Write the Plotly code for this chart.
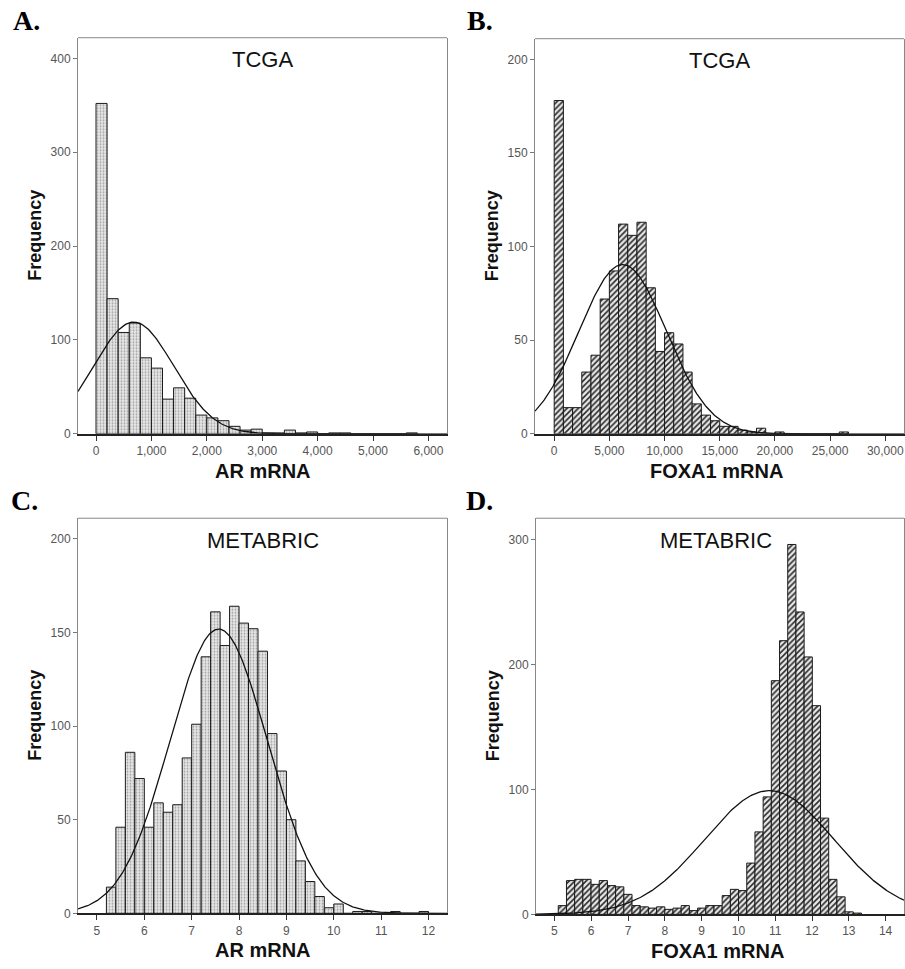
import numpy as np
import plotly.graph_objects as go

W, H = 905, 969

# ---------------- data ----------------
# Panel A: TCGA AR mRNA (bins of 200 starting at 0)
A_start, A_width = 0.0, 200.0
A_counts = [352, 144, 108, 118, 81, 70, 37, 49, 38, 20, 17, 14, 8, 4, 5, 1, 1, 4, 1, 2,
            0, 1, 1, 0, 0, 0, 0, 0, 1]
A_mean, A_sd, A_n = 680.0, 722.0, 1077

# Panel B: TCGA FOXA1 mRNA (bins of 833.33 starting at 0)
B_start, B_width = 0.0, 5000.0 / 6
B_counts = [178, 14, 14, 33, 42, 72, 87, 112, 106, 113, 78, 44, 54, 48, 33, 16, 10, 7, 4, 4,
            2, 1, 3, 0, 1, 0, 0, 0, 0, 0, 0, 1]
B_mean, B_sd, B_n = 6200.0, 3960.0, 1077

# Panel C: METABRIC AR mRNA (bins of 0.2 starting at 5.2)
C_start, C_width = 5.2, 0.2
C_counts = [14, 46, 86, 72, 46, 59, 54, 58, 83, 101, 137, 161, 143, 164, 155, 152, 140, 96,
            76, 50, 28, 17, 9, 3, 5, 0, 1, 1, 0, 0, 1, 0, 0, 1]
C_mean, C_sd, C_n = 7.57, 1.03, 1960

# Panel D: METABRIC FOXA1 mRNA (bins of ~0.2227 starting at 5.105)
D_start, D_width = 5.105, 0.2227
D_counts = [7, 27, 28, 28, 24, 27, 23, 22, 16, 7, 6, 5, 6, 4, 5, 7, 3, 5, 7, 7, 15, 20, 19,
            41, 66, 94, 187, 219, 296, 242, 206, 167, 77, 28, 14, 2, 1]
D_mean, D_sd, D_n = 10.84, 1.757, 1958

A_xticks = [0, 1000, 2000, 3000, 4000, 5000, 6000]
A_yticks = [0, 100, 200, 300, 400]
B_xticks = [0, 5000, 10000, 15000, 20000, 25000, 30000]
B_yticks = [0, 50, 100, 150, 200]
C_xticks = [5, 6, 7, 8, 9, 10, 11, 12]
C_yticks = [0, 50, 100, 150, 200]
D_xticks = [5, 6, 7, 8, 9, 10, 11, 12, 13, 14]
D_yticks = [0, 100, 200, 300]

panel_letters = ["A.", "B.", "C.", "D."]
panel_titles = ["TCGA", "TCGA", "METABRIC", "METABRIC"]
x_titles = ["AR mRNA", "FOXA1 mRNA", "AR mRNA", "FOXA1 mRNA"]
y_title = "Frequency"

# ---------------- layout geometry (pixels) ----------------
panels = [
    dict(px=(78, 447), py=(38, 437), xr=(-325, 6335), yr=(0, 422),
         start=A_start, width=A_width, counts=A_counts, mean=A_mean, sd=A_sd, n=A_n,
         xt=A_xticks, yt=A_yticks, fmt=",", style="dots"),
    dict(px=(535, 904), py=(39, 437), xr=(-1740, 31700), yr=(0, 211),
         start=B_start, width=B_width, counts=B_counts, mean=B_mean, sd=B_sd, n=B_n,
         xt=B_xticks, yt=B_yticks, fmt=",", style="hatch"),
    dict(px=(78, 447), py=(522, 920), xr=(4.6, 12.39), yr=(0, 211),
         start=C_start, width=C_width, counts=C_counts, mean=C_mean, sd=C_sd, n=C_n,
         xt=C_xticks, yt=C_yticks, fmt="", style="dots"),
    dict(px=(536, 904), py=(522, 921), xr=(4.5, 14.5), yr=(0, 317),
         start=D_start, width=D_width, counts=D_counts, mean=D_mean, sd=D_sd, n=D_n,
         xt=D_xticks, yt=D_yticks, fmt="", style="hatch"),
]

def fx(p):
    return p / W

def fy(p):
    return 1 - p / H

fig = go.Figure()
layout = {}
annotations = []
shapes = []

tick_font = dict(family="Liberation Sans Narrow, Liberation Sans, Arial, sans-serif",
                 size=12, color="#555555")

for i, p in enumerate(panels):
    k = "" if i == 0 else str(i + 1)
    xa, ya = "x" + k, "y" + k
    counts = np.array(p["counts"], dtype=float)
    centers = p["start"] + p["width"] * (np.arange(len(counts)) + 0.5)
    if p["style"] == "dots":
        marker = dict(color="#e4e4e4",
                      pattern=dict(shape=".", fgcolor="#a0a0a0", bgcolor="#e8e8e8",
                                   size=3, solidity=0.3, fillmode="replace"),
                      line=dict(color="#1a1a1a", width=1))
    else:
        marker = dict(color="#e0e0e0",
                      pattern=dict(shape="/", fgcolor="#2a2a2a", bgcolor="#e8e8e8",
                                   size=4, solidity=0.4, fillmode="replace"),
                      line=dict(color="#1a1a1a", width=1))
    fig.add_trace(go.Bar(x=centers, y=counts, width=p["width"], marker=marker,
                         xaxis=xa, yaxis=ya, showlegend=False, hoverinfo="x+y"))
    # fitted normal curve
    xs = np.linspace(p["xr"][0], p["xr"][1], 400)
    ys = p["n"] * p["width"] / (p["sd"] * np.sqrt(2 * np.pi)) * np.exp(-0.5 * ((xs - p["mean"]) / p["sd"]) ** 2)
    fig.add_trace(go.Scatter(x=xs, y=ys, mode="lines", line=dict(color="#111111", width=1.3),
                             xaxis=xa, yaxis=ya, showlegend=False, hoverinfo="skip"))

    x0, x1 = p["px"]
    yt, yb = p["py"]
    layout["xaxis" + k] = dict(
        domain=[fx(x0), fx(x1)], range=list(p["xr"]), anchor=ya,
        tickvals=p["xt"], tickformat=p["fmt"], ticks="outside", ticklen=5,
        tickcolor="#333333", tickwidth=1, showline=True, linecolor="#222222", linewidth=1.5,
        showgrid=False, zeroline=False, tickfont=tick_font, fixedrange=True)
    layout["yaxis" + k] = dict(
        domain=[fy(yb), fy(yt)], range=list(p["yr"]), anchor=xa,
        tickvals=p["yt"], ticks="outside", ticklen=4, tickcolor="#777777", tickwidth=1,
        showline=True, linecolor="#888888", linewidth=1, mirror=True,
        showgrid=False, zeroline=False, tickfont=tick_font, fixedrange=True)
    shapes.append(dict(type="line", xref=xa + " domain", yref=ya + " domain",
                       x0=0, x1=1, y0=1, y1=1, line=dict(color="#888888", width=1)))

    cx = (x0 + x1) / 2
    cy = (yt + yb) / 2
    annotations.append(dict(text=panel_titles[i], x=fx(cx - (4 if i == 3 else 0)), y=fy(yt + 22),
                            xref="paper", yref="paper", showarrow=False, xanchor="center",
                            yanchor="middle",
                            font=dict(family="Liberation Sans, Arial, sans-serif", size=22,
                                      color="#111111")))
    annotations.append(dict(text="<b>" + y_title + "</b>", x=fx(x0 - 43), y=fy(cy),
                            xref="paper", yref="paper", showarrow=False, textangle=-90,
                            xanchor="center", yanchor="middle",
                            font=dict(family="Liberation Sans, Arial, sans-serif", size=18,
                                      color="#111111")))
    annotations.append(dict(text="<b>" + x_titles[i] + "</b>", x=fx(cx - (3 if i % 2 else 0)),
                            y=fy(yb + 37),
                            xref="paper", yref="paper", showarrow=False,
                            xanchor="center", yanchor="middle",
                            font=dict(family="Liberation Sans, Arial, sans-serif", size=20,
                                      color="#111111")))

letter_pos = [(11, 21), (465, 21), (9, 504), (464, 504)]
for lt, (lx, ly) in zip(panel_letters, letter_pos):
    annotations.append(dict(text="<b>" + lt + "</b>", x=fx(lx), y=fy(ly), xref="paper",
                            yref="paper", showarrow=False, xanchor="left", yanchor="middle",
                            font=dict(family="Liberation Serif, Times New Roman, serif",
                                      size=28, color="#000000")))

fig.update_layout(
    width=W, height=H, margin=dict(l=0, r=0, t=0, b=0),
    paper_bgcolor="white", plot_bgcolor="white",
    barmode="overlay", annotations=annotations, shapes=shapes,
    **layout)

fig.write_html("out.html",
               config={"displayModeBar": False},
               post_script="document.body.style.margin='0px';"
                           "document.body.style.padding='0px';"
                           "document.body.style.overflow='hidden';")
